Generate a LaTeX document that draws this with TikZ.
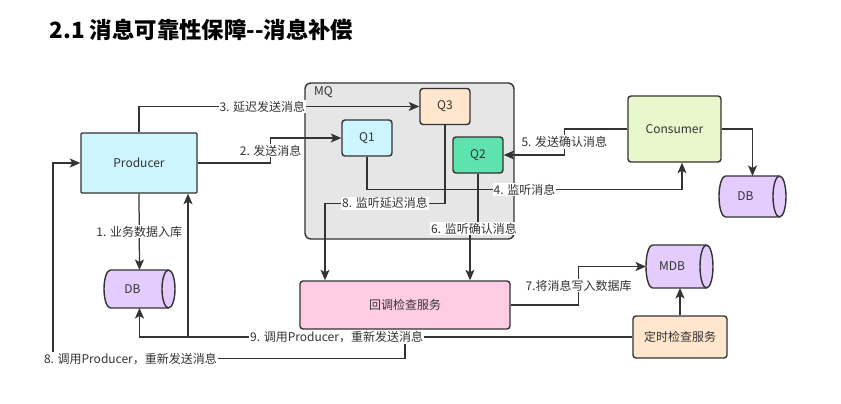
\documentclass[tikz,border=0pt]{standalone}
\usepackage{fontspec}
\setmainfont{Noto Sans CJK SC}
\usetikzlibrary{arrows.meta,backgrounds}
\definecolor{linegray}{HTML}{333333}
\definecolor{prodcyan}{HTML}{CCF5FF}
\definecolor{qpeach}{HTML}{FFE6CC}
\definecolor{qgreen}{HTML}{5EE3AE}
\definecolor{consgreen}{HTML}{E8F8CC}
\definecolor{dbpurple}{HTML}{E5CCFF}
\definecolor{checkpink}{HTML}{FFCCE6}
\definecolor{mqgray}{HTML}{E6E6E6}
\tikzset{
  box/.style={draw=linegray, line width=1.4pt, text=linegray,
              font=\fontsize{12}{14}\selectfont, inner sep=0pt},
  queue/.style={box, rounded corners=3pt, minimum width=50pt, minimum height=36pt},
  service/.style={box, rounded corners=3pt},
  dbcyl/.style={text=linegray, font=\fontsize{12}{14}\selectfont,
                inner sep=0pt, outer sep=0pt},
  drumline/.style={draw=linegray, line width=1.4pt},
  conn/.style={draw=linegray, line width=1.25pt,
               -{Stealth[length=10.5pt, width=9pt, inset=2.5pt]}},
  lbl/.style={fill=white, inner sep=1pt, text=linegray,
              font=\fontsize{12}{14}\selectfont},
}
% lying drum behind a db node: #1 node name, #2 half height
\newcommand{\dbdrum}[2]{%
  \begin{scope}[on background layer]
    \draw[drumline, fill=dbpurple] ([xshift=6.5pt]#1.north west) -- ([xshift=-6.5pt]#1.north east)
      arc[start angle=90, end angle=-90, x radius=6.5pt, y radius=#2]
      -- ([xshift=6.5pt]#1.south west)
      arc[start angle=270, end angle=90, x radius=6.5pt, y radius=#2] -- cycle;
    \draw[drumline] ([xshift=-6.5pt]#1.north east)
      arc[start angle=90, end angle=270, x radius=6.5pt, y radius=#2];
  \end{scope}}

\begin{document}
\begin{tikzpicture}[x=1pt, y=-1pt]
    \useasboundingbox (0,0) rectangle (841,404);
    \node[anchor=west, font=\fontsize{22.4}{26}\selectfont\bfseries] (title) at (46,30) {2.1 消息可靠性保障{-}{-}消息补偿};
    \node[box, fill=mqgray, rounded corners=6pt, minimum width=209pt, minimum height=156pt] (mq) at (409.5,161) {};
    \node[anchor=west, text=linegray, font=\fontsize{12}{14}\selectfont, inner sep=0pt] (mqname) at (314,92) {MQ};
    \node[box, fill=prodcyan, rounded corners=1pt, minimum width=116pt, minimum height=60pt] (producer) at (139,163) {Producer};
    \node[queue, fill=prodcyan] (q1) at (367,138) {Q1};
    \node[queue, fill=qpeach] (q3) at (445,106.5) {Q3};
    \node[queue, fill=qgreen] (q2) at (478,155) {Q2};
    \node[service, fill=consgreen, minimum width=93pt, minimum height=66pt] (consumer) at (674.5,129) {Consumer};
    \node[dbcyl, minimum width=67pt, minimum height=41pt] (dbright) at (752.5,196.5) {\hspace*{-14pt}DB};
    \node[dbcyl, minimum width=71pt, minimum height=38pt] (dbleft) at (139.5,289) {\hspace*{-14pt}DB};
    \node[service, fill=checkpink, minimum width=210pt, minimum height=48pt] (check) at (405,305) {回调检查服务};
    \node[dbcyl, minimum width=67pt, minimum height=43pt] (mdb) at (679.5,266.5) {\hspace*{-15pt}MDB};
    \node[service, fill=qpeach, minimum width=94pt, minimum height=42pt] (timer) at (680,337) {定时检查服务};
    \dbdrum{dbright}{20.5pt}
    \dbdrum{dbleft}{19pt}
    \dbdrum{mdb}{21.5pt}

    \draw[conn] (producer.south) -- node[lbl] {1. 业务数据入库} (dbleft.north);
    \draw[conn] (producer.east) -- ++(73,0) |- node[lbl, pos=0.25] {2. 发送消息} (q1.west);
    \draw[conn] (producer.north) |- node[lbl, pos=0.72] {3. 延迟发送消息} (q3.west);
    \draw[conn] (q1.south) -- ++(0,33) -| node[lbl, pos=0.25] {4. 监听消息} ([xshift=7.5pt]consumer.south);
    \draw[conn] (consumer.west) -- ++(-63,0) |- node[lbl, pos=0.25] {5. 发送确认消息} (q2.east);
    \draw[conn] (consumer.east) -| (dbright.north);
    \draw[conn] (q3.south) -- ++(0,78) -| node[lbl, pos=0.25] {8. 监听延迟消息} ([xshift=-80pt]check.north);
    \draw[conn] (q2.south) -- ++(0,55) -| node[lbl, pos=0.25] {6. 监听确认消息} ([xshift=65pt]check.north);
    \draw[conn] (check.east) -- ++(68,0) |- node[lbl, pos=0.25] {7.将消息写入数据库} (mdb.west);
    \draw[conn] (timer.north) -- (timer.north |- mdb.south);
    \draw[conn] (check.south) -- ++(0,29) -- node[lbl, pos=0.78] {8. 调用Producer，重新发送消息} ++(-352,0) |- (producer.west);
    \draw[conn] (timer.west) -| ([xshift=49pt]producer.south);
    \draw[conn] (timer.west) -| node[lbl, pos=0.3] {9. 调用Producer，重新发送消息} (dbleft.south);
\end{tikzpicture}
\end{document}
